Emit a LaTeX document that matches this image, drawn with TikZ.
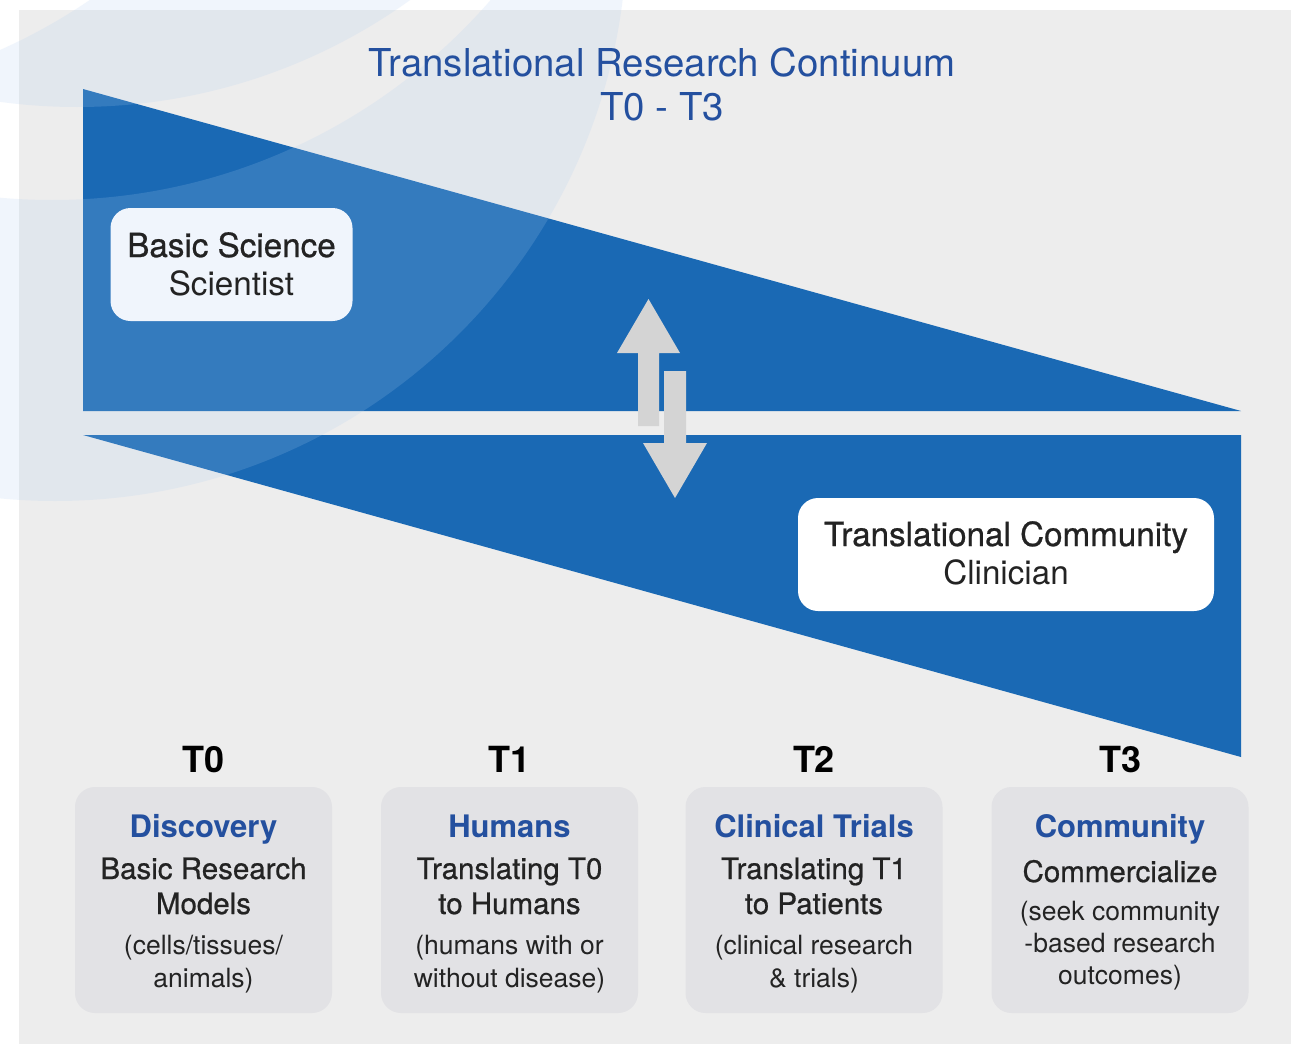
\documentclass[tikz,border=0pt]{standalone}
\usepackage{fontspec}
\setmainfont{TeX Gyre Heros}
\newfontfamily\medfont[FakeBold=0.7]{TeX Gyre Heros}
\definecolor{panel}{HTML}{EDEDED}
\definecolor{cblue}{HTML}{1A69B4}
\definecolor{tblue}{HTML}{24509F}
\definecolor{boxgray}{HTML}{E2E2E5}
\definecolor{arrowgray}{HTML}{D4D4D4}
\definecolor{ovlc}{RGB}{175,205,240}
\definecolor{txt}{HTML}{232323}
\begin{document}
\begin{tikzpicture}[x=1pt,y=-1pt,
  rbox/.style={rectangle, rounded corners=20pt, inner sep=0pt, draw=none},
  stagebox/.style={rbox, fill=boxgray, minimum width=257pt, minimum height=226pt},
  ttl/.style={anchor=base, inner sep=0pt, text=tblue, font=\fontsize{38.4}{44}\selectfont},
  role/.style={anchor=base, inner sep=0pt, text=txt, font=\fontsize{33.2}{40}\selectfont},
  rolem/.style={role, font=\medfont\fontsize{33.2}{40}\selectfont},
  tlbl/.style={anchor=base, inner sep=0pt, text=black, font=\fontsize{36}{42}\selectfont\bfseries},
  hd/.style={anchor=base, inner sep=0pt, text=tblue, font=\fontsize{31}{36}\selectfont\bfseries},
  bd/.style={anchor=base, inner sep=0pt, text=txt, font=\medfont\fontsize{29.5}{35}\selectfont},
  sm/.style={anchor=base, inner sep=0pt, text=txt, font=\fontsize{26.5}{32}\selectfont},
  ovl/.style={fill=ovlc, fill opacity=0.18, even odd rule},
  arr/.style={fill=arrowgray}]
\useasboundingbox (0,0) rectangle (1291,1044);
\fill[white] (0,0) rectangle (1291,1044);
\fill[panel] (19,10) rectangle (1291,1044);
% blue wedges
\fill[cblue] (83,89) -- (1241,411) -- (83,411) -- cycle;
\fill[cblue] (83,435) -- (1241,435) -- (1241,757) -- cycle;
% role boxes
\node[rbox, fill=white, minimum width=242pt, minimum height=113pt] (bsbox) at (231.5,264.5) {};
\node[rbox, fill=white, minimum width=416pt, minimum height=113pt] (tcbox) at (1006,554.5) {};
% translucent background rings
\begin{scope}
  \clip (0,0) rectangle (1291,1044);
  \fill[ovl] (55,-71) circle (572) (52,-381) circle (581);
  \fill[ovl] (77,-465) circle (572) (-232,-473) circle (572);
\end{scope}
% arrows
\fill[arr] (648.5,299) -- (680,353) -- (659,353) -- (659,426) -- (638,426) -- (638,353) -- (617,353) -- cycle;
\fill[arr] (675,498) -- (707,443) -- (686,443) -- (686,371) -- (664,371) -- (664,443) -- (643,443) -- cycle;
% title
\node[ttl] (title1) at (662,76) {Translational Research Continuum};
\node[ttl] (title2) at (662,120) {T0 - T3};
% role texts
\node[rolem] (bs1) at (231.5,257) {Basic Science};
\node[role] (bs2) at (231.5,295) {Scientist};
\node[rolem] (tc1) at (1006,546) {Translational Community};
\node[role] (tc2) at (1006,584) {Clinician};
% stage boxes
\node[stagebox] (s0) at (203.5,900) {};
\node[stagebox] (s1) at (509.5,900) {};
\node[stagebox] (s2) at (814,900) {};
\node[stagebox] (s3) at (1120,900) {};
% stage labels
\node[tlbl] (t0) at (203.5,772) {T0};
\node[tlbl] (t1) at (509.5,772) {T1};
\node[tlbl] (t2) at (814,772) {T2};
\node[tlbl] (t3) at (1120,772) {T3};
% column 0
\node[hd] (h0) at (203.5,837) {Discovery};
\node[bd] (b0a) at (203.5,879) {Basic Research};
\node[bd] (b0b) at (203.5,914) {Models};
\node[sm] (m0a) at (203.5,954) {(cells/tissues/};
\node[sm] (m0b) at (203.5,987) {animals)};
% column 1
\node[hd] (h1) at (509.5,837) {Humans};
\node[bd] (b1a) at (509.5,879) {Translating T0};
\node[bd] (b1b) at (509.5,914) {to Humans};
\node[sm] (m1a) at (509.5,954) {(humans with or};
\node[sm] (m1b) at (509.5,987) {without disease)};
% column 2
\node[hd] (h2) at (814,837) {Clinical Trials};
\node[bd] (b2a) at (814,879) {Translating T1};
\node[bd] (b2b) at (814,914) {to Patients};
\node[sm] (m2a) at (814,954) {(clinical research};
\node[sm] (m2b) at (814,987) {\& trials)};
% column 3
\node[hd] (h3) at (1120,837) {Community};
\node[bd] (b3a) at (1120,882) {Commercialize};
\node[sm] (m3a) at (1120,920) {(seek community};
\node[sm] (m3b) at (1120,952) {-based research};
\node[sm] (m3c) at (1120,984) {outcomes)};
\end{tikzpicture}
\end{document}
